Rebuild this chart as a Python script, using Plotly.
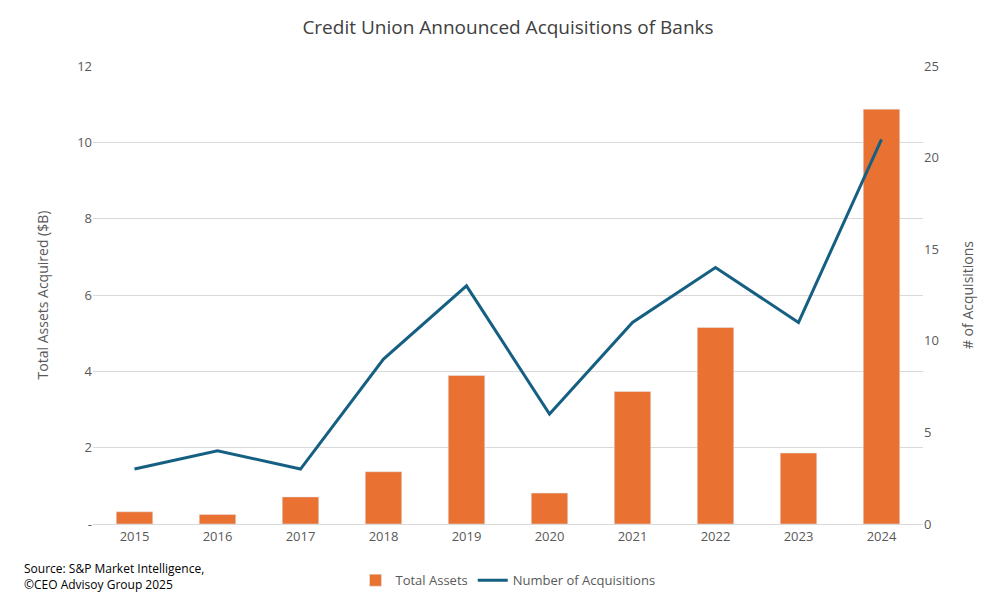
import plotly.graph_objects as go

years = ["2015","2016","2017","2018","2019","2020","2021","2022","2023","2024"]
total_assets = [0.32, 0.25, 0.71, 1.37, 3.89, 0.81, 3.47, 5.15, 1.86, 10.87]
num_acq = [3, 4, 3, 9, 13, 6, 11, 14, 11, 21]
left_ticks = [0, 2, 4, 6, 8, 10, 12]
left_labels = ["-", "2", "4", "6", "8", "10", "12"]
right_ticks = [0, 5, 10, 15, 20, 25]

fig = go.Figure()
fig.add_trace(go.Bar(x=years, y=total_assets, name="Total Assets",
                     marker_color="#E97132", width=0.44))
fig.add_trace(go.Scatter(x=years, y=num_acq, name="Number of Acquisitions", yaxis="y2",
                         mode="lines", line=dict(color="#156082", width=3)))
fig.update_layout(
    width=1000, height=606, plot_bgcolor="white", paper_bgcolor="white",
    font=dict(family="Open Sans, sans-serif", size=13, color="#595959"),
    title=dict(text="Credit Union Announced Acquisitions of Banks", x=0.5, y=0.968,
               yref="container", yanchor="middle", xanchor="center",
               font=dict(size=19, color="#404040")),
    margin=dict(l=85, r=85, t=58, b=90),
    xaxis=dict(showgrid=False, showline=True, linecolor="#D9D9D9", ticks=""),
    yaxis=dict(range=[0, 12], tickvals=left_ticks, ticktext=left_labels,
               gridcolor="#D9D9D9", zeroline=False, ticks="",
               title=dict(text="Total Assets Acquired ($B)", standoff=25, font=dict(size=14))),
    yaxis2=dict(range=[0, 25], tickvals=right_ticks, overlaying="y", side="right",
                showgrid=False, zeroline=False, ticks="",
                title=dict(text="# of Acquisitions", standoff=25, font=dict(size=14))),
    legend=dict(orientation="h", x=0.5, xanchor="center", y=-0.09, yanchor="top",
                font=dict(size=13)),
    bargap=0.5,
)
fig.add_annotation(text="Source: S&P Market Intelligence,<br>©CEO Advisoy Group 2025",
                   xref="paper", yref="paper", x=-0.085, y=-0.075, xanchor="left",
                   yanchor="top", showarrow=False, align="left",
                   font=dict(size=12, color="#000000"))
fig.write_html("out.html")
